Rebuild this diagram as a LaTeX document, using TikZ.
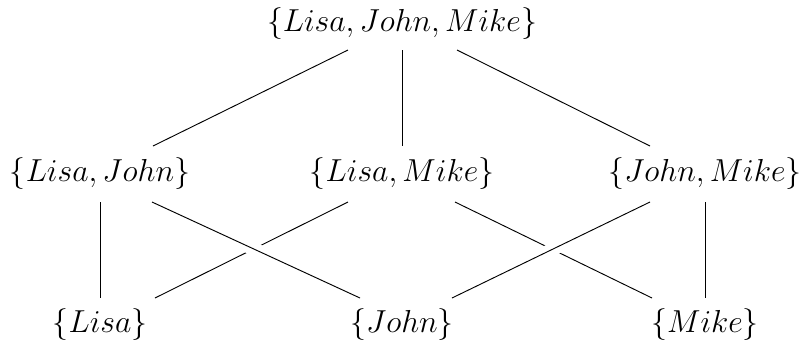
\documentclass[tikz,border=0pt]{standalone}
\usetikzlibrary{calc}
\begin{document}
\begin{tikzpicture}[x=0.75pt,y=-0.75pt,
  set/.style={inner sep=0pt, font=\huge, scale=1.15, transform shape},
  link/.style={line width=0.7pt},
  over/.style={line width=0.7pt, preaction={draw=white, line width=10pt}}]
\useasboundingbox (0,0) rectangle (801,344);
% power set of {Lisa, John, Mike}
\node[set] (top)  at (402,24)  {$\{Lisa, John, Mike\}$};
\node[set] (LJ)   at (100,174) {$\{Lisa, John\}$};
\node[set] (LM)   at (402,174) {$\{Lisa, Mike\}$};
\node[set] (JM)   at (705,174) {$\{John, Mike\}$};
\node[set] (Lisa) at (100,325) {$\{Lisa\}$};
\node[set] (John) at (402,325) {$\{John\}$};
\node[set] (Mike) at (705,325) {$\{Mike\}$};
% covering relations
\draw[link] ($(top)+(-54,26)$) -- ($(LJ)+(53,-28)$);
\draw[link] ($(top)+(0,26)$)   -- ($(LM)+(0,-28)$);
\draw[link] ($(top)+(55,26)$)  -- ($(JM)+(-55,-28)$);
\draw[link] ($(LJ)+(0,28)$)    -- ($(Lisa)+(0,-27)$);
\draw[link] ($(LM)+(-54,28)$)  -- ($(Lisa)+(55,-27)$);
\draw[link] ($(LM)+(53,28)$)   -- ($(Mike)+(-53,-27)$);
\draw[link] ($(JM)+(0,28)$)    -- ($(Mike)+(0,-27)$);
% these two pass over the others
\draw[over] ($(LJ)+(52,28)$)   -- ($(John)+(-42,-27)$);
\draw[over] ($(JM)+(-55,28)$)  -- ($(John)+(50,-27)$);
\end{tikzpicture}
\end{document}
